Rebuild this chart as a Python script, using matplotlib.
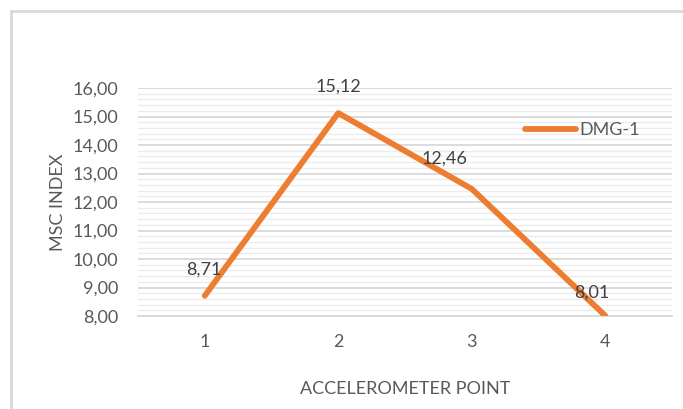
import matplotlib.pyplot as plt
from matplotlib.patches import Rectangle
from matplotlib.ticker import MultipleLocator, FuncFormatter

# chart data
points = [1, 2, 3, 4]
msc_index = [8.71, 15.12, 12.46, 8.01]
series_name = "DMG-1"

plt.rcParams['font.family'] = ['Lato', 'DejaVu Sans']
text_color = '#595959'
orange = '#ED7D31'
fs = 13


def comma(v, pos=None):
    return f"{v:.2f}".replace('.', ',')


fig = plt.figure(figsize=(6.83, 4.09), dpi=100)
fig.patches.append(Rectangle((11 / 683, -0.1), 1.1, 1 - 11 / 409 + 0.1,
                             transform=fig.transFigure, fill=False,
                             edgecolor='#d9d9d9', linewidth=2))

ax = fig.add_axes([138 / 683, 1 - 316 / 409, 534 / 683, 228 / 409])
ax.plot(points, msc_index, color=orange, linewidth=4.2,
        solid_capstyle='round', solid_joinstyle='round', label=series_name, zorder=3)

ax.set_xlim(0.5, 4.5)
ax.set_ylim(8, 16)
ax.set_xticks(points)
ax.yaxis.set_major_locator(MultipleLocator(1))
ax.yaxis.set_minor_locator(MultipleLocator(0.2))
ax.yaxis.set_major_formatter(FuncFormatter(comma))
ax.grid(axis='y', which='major', color='#d9d9d9', linewidth=1.3)
ax.grid(axis='y', which='minor', color='#ececec', linewidth=1.0)
ax.set_axisbelow(True)
ax.tick_params(axis='both', which='both', length=0, labelsize=fs,
               colors=text_color)
ax.tick_params(axis='x', pad=13)
ax.tick_params(axis='y', pad=14)
for s in ['top', 'right', 'left']:
    ax.spines[s].set_visible(False)
ax.spines['bottom'].set_color('#d9d9d9')
ax.spines['bottom'].set_linewidth(1.3)

# data labels
offsets = [(-1, 13), (0, 13), (-20, 16), (-10, 11)]
for x, y, (dx, dy) in zip(points, msc_index, offsets):
    ax.annotate(comma(y), (x, y), xytext=(dx, dy), textcoords='offset points',
                ha='center', va='bottom', fontsize=fs, color='#404040')

ax.set_xlabel("ACCELEROMETER POINT", fontsize=fs, color=text_color, labelpad=22)
ax.set_ylabel("MSC INDEX", fontsize=fs, color=text_color, labelpad=5)

leg = ax.legend(loc='upper right', bbox_to_anchor=(0.97, 0.92), frameon=False,
                fontsize=fs, handlelength=2.8, handletextpad=0.2)
for t in leg.get_texts():
    t.set_color(text_color)

fig.savefig('out.png', dpi=100)
